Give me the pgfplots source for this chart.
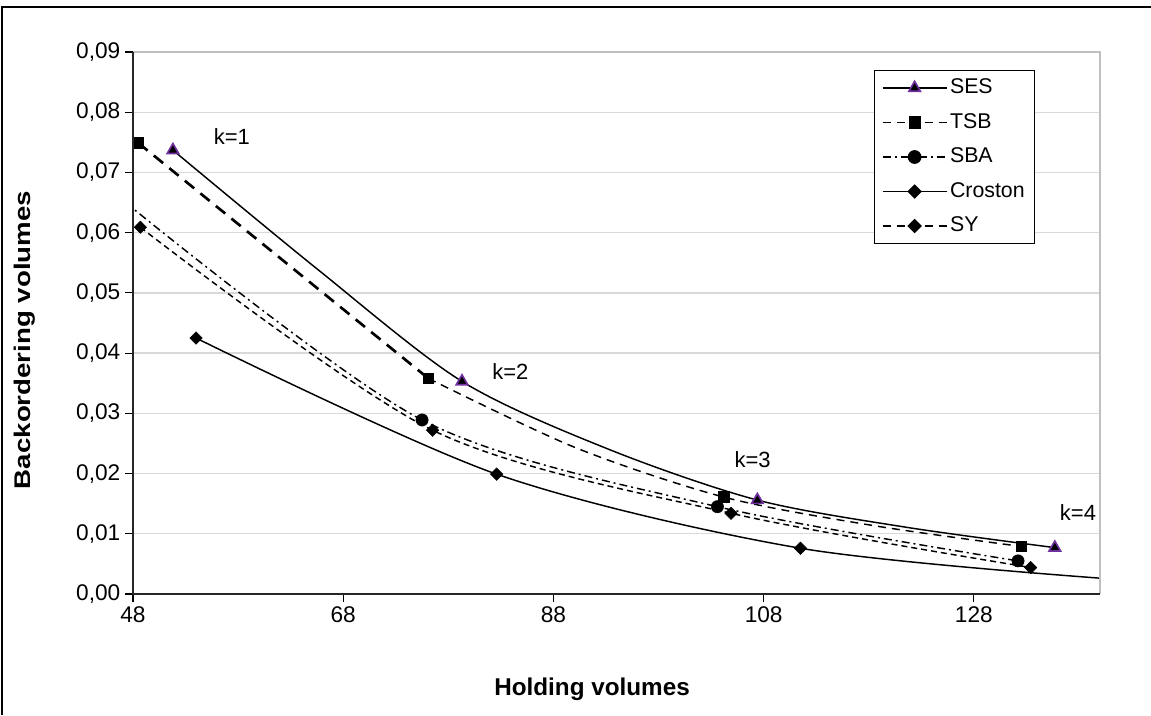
\documentclass[border=0pt]{standalone}
\usepackage{fontspec}
\setmainfont{Liberation Sans}
\newfontfamily\ylabfont{Liberation Sans}[FakeStretch=1.22]
\usepackage{pgfplots}
\pgfplotsset{compat=1.18}
\definecolor{sespurple}{HTML}{7030A0}
\definecolor{gridgray}{HTML}{D9D9D9}
\definecolor{bordergray}{HTML}{BFBFBF}
\begin{document}
\begin{tikzpicture}
\begin{scope}[x=0.75pt,y=0.75pt]
\path[use as bounding box] (0,0) rectangle (1151,715);
\draw[black, line width=1.2pt] (2,0) -- (2,708) -- (1151,708);
\end{scope}
\begin{axis}[
  at={(99.75pt,90.75pt)}, anchor=south west,
  scale only axis, width=725.25pt, height=406.5pt,
  xmin=48, xmax=140, ymin=0, ymax=0.09,
  xtick={48,68,88,108,128},
  ytick={0,0.01,0.02,0.03,0.04,0.05,0.06,0.07,0.08,0.09},
  scaled y ticks=false,
  axis line style={draw=none},
  tick align=outside, tick pos=left,
  major tick length=6pt,
  tick style={black, line width=0.8pt},
  ymajorgrids, grid style={gridgray, line width=1pt},
  /pgf/number format/assume math mode=true,
  y tick label style={/pgf/number format/.cd, fixed, fixed zerofill, precision=2, use comma},
  tick label style={font=\fontsize{17}{20}\selectfont},
  legend image code/.code={\draw[mark repeat=2,mark phase=2,#1] plot coordinates {(0pt,0pt) (24pt,0pt) (48pt,0pt)};},
  legend style={at={(0.7663,0.9668)}, anchor=north west, draw=black, line width=0.8pt, fill=white,
    font=\fontsize{16}{18}\selectfont, inner xsep=5.5pt, inner ysep=3.8pt, row sep=7.4pt,
    nodes={inner sep=2pt, text height=11.5pt, text depth=3pt}},
  legend cell align=left,
]
% SES
\addplot[black, line width=1.1pt, smooth, forget plot] coordinates {(51.8,0.0737) (65.5,0.0540) (79.3,0.0353) (93.3,0.0240) (107.4,0.0156) (121.5,0.0111) (135.7,0.0077)};
% TSB
\addplot[black, line width=2pt, dash pattern=on 9pt off 6pt, forget plot] coordinates {(48.5,0.0749) (76.1,0.0358)};
\addplot[black, line width=1.1pt, dash pattern=on 6pt off 4.5pt, smooth, forget plot] coordinates {(76.1,0.0358) (90.1,0.0243) (104.2,0.0161) (118.3,0.0114) (132.5,0.0079)};
% SBA
\addplot[black, line width=1.1pt, dash pattern=on 6pt off 3pt on 1.5pt off 3pt, smooth, forget plot] coordinates {(47.3,0.0650) (75.5,0.0289) (103.6,0.0145) (132.2,0.0055)};
% Croston
\addplot[black, line width=1.1pt, smooth, forget plot] coordinates {(54.0,0.0425) (82.6,0.0199) (111.5,0.0076) (141,0.0025)};
% SY
\addplot[black, line width=1.1pt, dash pattern=on 4.5pt off 3pt, smooth, forget plot] coordinates {(48.7,0.0609) (76.5,0.0272) (104.9,0.0134) (133.4,0.0044)};
% markers
\addplot[only marks, mark=*, mark size=4.6pt, black, forget plot] coordinates {(75.5,0.0289) (103.6,0.0145) (132.2,0.0055)};
\addplot[only marks, mark=square*, mark size=4pt, black, forget plot] coordinates {(48.5,0.0749) (76.1,0.0358) (104.2,0.0161) (132.5,0.0079)};
\addplot[only marks, mark=square*, mark size=3.3pt, mark options={rotate=45}, black, forget plot] coordinates {(54.0,0.0425) (82.6,0.0199) (111.5,0.0076)};
\addplot[only marks, mark=square*, mark size=3.3pt, mark options={rotate=45}, black, forget plot] coordinates {(48.7,0.0609) (76.5,0.0272) (104.9,0.0134) (133.4,0.0044)};
\addplot[only marks, mark=triangle*, mark size=5pt, mark options={fill=black, draw=sespurple, line width=1.2pt}, forget plot] coordinates {(51.8,0.0737) (79.3,0.0353) (107.4,0.0156) (135.7,0.0077)};
% legend
\addlegendimage{black, line width=1.1pt, mark=triangle*, mark size=5pt, mark options={fill=black, draw=sespurple, line width=1.2pt}}
\addlegendentry{SES}
\addlegendimage{black, line width=1.1pt, dash pattern=on 6pt off 4.5pt, mark=square*, mark size=4pt, mark options={solid}}
\addlegendentry{TSB}
\addlegendimage{black, line width=1.1pt, dash pattern=on 6pt off 3pt on 1.5pt off 3pt, mark=*, mark size=4.6pt, mark options={solid}}
\addlegendentry{SBA}
\addlegendimage{black, line width=1.1pt, mark=square*, mark size=3.3pt, mark options={rotate=45}}
\addlegendentry{Croston}
\addlegendimage{black, line width=1.1pt, dash pattern=on 6pt off 4.5pt, mark=square*, mark size=3.3pt, mark options={rotate=45, solid}}
\addlegendentry{SY}
\node[font=\fontsize{16.5}{18}\selectfont] at (axis cs:57.4,0.0759) {k=1};
\node[font=\fontsize{16.5}{18}\selectfont] at (axis cs:83.9,0.0369) {k=2};
\node[font=\fontsize{16.5}{18}\selectfont] at (axis cs:106.95,0.0223) {k=3};
\node[font=\fontsize{16.5}{18}\selectfont] at (axis cs:137.9,0.01345) {k=4};
\end{axis}
\begin{scope}[x=0.75pt,y=0.75pt]
\draw[bordergray, line width=1pt] (133,663) -- (1100,663) -- (1100,121);
\draw[black!85, line width=1pt] (133,663) -- (133,121) -- (1100,121);
\node[rotate=90, font=\ylabfont\bfseries\fontsize{17}{20}\selectfont] at (25,375) {Backordering volumes};
\node[font=\bfseries\fontsize{18.2}{20}\selectfont] at (592,26) {Holding volumes};
\end{scope}
\end{tikzpicture}
\end{document}
